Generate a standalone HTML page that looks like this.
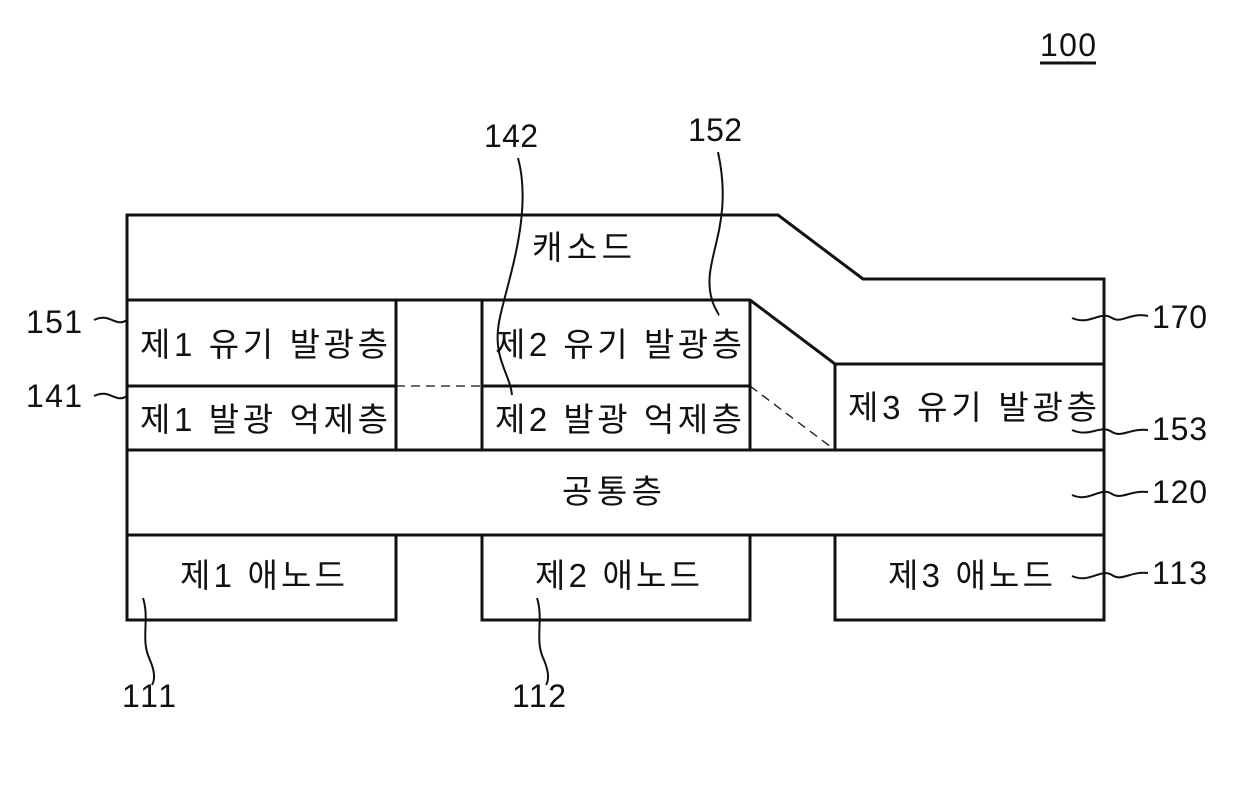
<!DOCTYPE html>
<html><head><meta charset="utf-8"><style>
html,body{margin:0;padding:0;background:#fff;}
svg text{font-family:"Liberation Sans","Noto Sans CJK KR",sans-serif;fill:#111;}
.k{font-size:33px;}
.n{font-size:32px;}
</style></head><body>
<svg width="1240" height="786" viewBox="0 0 1240 786" xmlns="http://www.w3.org/2000/svg">
<g fill="none" stroke="#111" stroke-width="3">
<polyline points="127,535 127,215 778,215 863,279 1104,279 1104,535"/>
<polyline points="127,300 750,300 835,364 1104,364"/>
<line x1="127" y1="386" x2="396" y2="386"/>
<line x1="482" y1="386" x2="750" y2="386"/>
<line x1="396" y1="300" x2="396" y2="450"/>
<line x1="482" y1="300" x2="482" y2="450"/>
<line x1="750" y1="300" x2="750" y2="450"/>
<line x1="835" y1="364" x2="835" y2="450"/>
<rect x="127" y="450" width="977" height="85"/>
<polyline points="127,535 127,620 396,620 396,535"/>
<polyline points="482,535 482,620 750,620 750,535"/>
<polyline points="835,535 835,620 1104,620 1104,535"/>
<line x1="1040" y1="63" x2="1096" y2="63"/>
</g>
<g fill="none" stroke="#111" stroke-width="1.3" stroke-dasharray="9,6">
<line x1="396" y1="386" x2="482" y2="386"/>
<line x1="750" y1="386" x2="835" y2="450"/>
</g>
<g fill="none" stroke="#111" stroke-width="2">
<path d="M94,320 C110,312 115,328 127,320"/>
<path d="M94,396 C110,388 115,404 127,396"/>
<path d="M518,158 C535,220 500,300 498,330 C495,360 510,375 512,395"/>
<path d="M718,152 C735,230 700,260 712,300 C715,310 720,315 718,315"/>
<path d="M1072,318 C1090,326 1100,310 1112,318 C1122,324 1130,312 1148,316"/>
<path d="M1072,430 C1090,438 1100,424 1112,432 C1122,438 1130,428 1148,430"/>
<path d="M1072,495 C1090,503 1100,486 1112,494 C1122,500 1130,490 1148,492"/>
<path d="M1072,576 C1090,584 1100,568 1112,575 C1122,582 1130,571 1148,573"/>
<path d="M143,598 C150,620 140,640 150,660 C155,672 155,680 152,685"/>
<path d="M537,598 C544,620 534,640 544,660 C549,672 549,680 546,685"/>
</g>
<text class="n" x="1040" y="56" textLength="56">100</text>
<text class="n" x="484" y="147" textLength="54">142</text>
<text class="n" x="688" y="141" textLength="54">152</text>
<text class="n" x="26" y="333" textLength="56">151</text>
<text class="n" x="26" y="407" textLength="56">141</text>
<text class="n" x="1152" y="328" textLength="55">170</text>
<text class="n" x="1152" y="440" textLength="55">153</text>
<text class="n" x="1152" y="503" textLength="55">120</text>
<text class="n" x="1152" y="584" textLength="55">113</text>
<text class="n" x="122" y="707" textLength="54">111</text>
<text class="n" x="512" y="707" textLength="54">112</text>
<text class="k" x="532" y="259" textLength="100" lengthAdjust="spacing">캐소드</text>
<text class="k" x="140" y="356" textLength="248" lengthAdjust="spacing">제1 유기 발광층</text>
<text class="k" x="140" y="431" textLength="248" lengthAdjust="spacing">제1 발광 억제층</text>
<text class="k" x="495" y="356" textLength="247" lengthAdjust="spacing">제2 유기 발광층</text>
<text class="k" x="495" y="431" textLength="247" lengthAdjust="spacing">제2 발광 억제층</text>
<text class="k" x="848" y="419" textLength="249" lengthAdjust="spacing">제3 유기 발광층</text>
<text class="k" x="562" y="503" textLength="100" lengthAdjust="spacing">공통층</text>
<text class="k" x="180" y="587" textLength="165" lengthAdjust="spacing">제1 애노드</text>
<text class="k" x="535" y="587" textLength="165" lengthAdjust="spacing">제2 애노드</text>
<text class="k" x="888" y="587" textLength="165" lengthAdjust="spacing">제3 애노드</text>
</svg>
</body></html>
